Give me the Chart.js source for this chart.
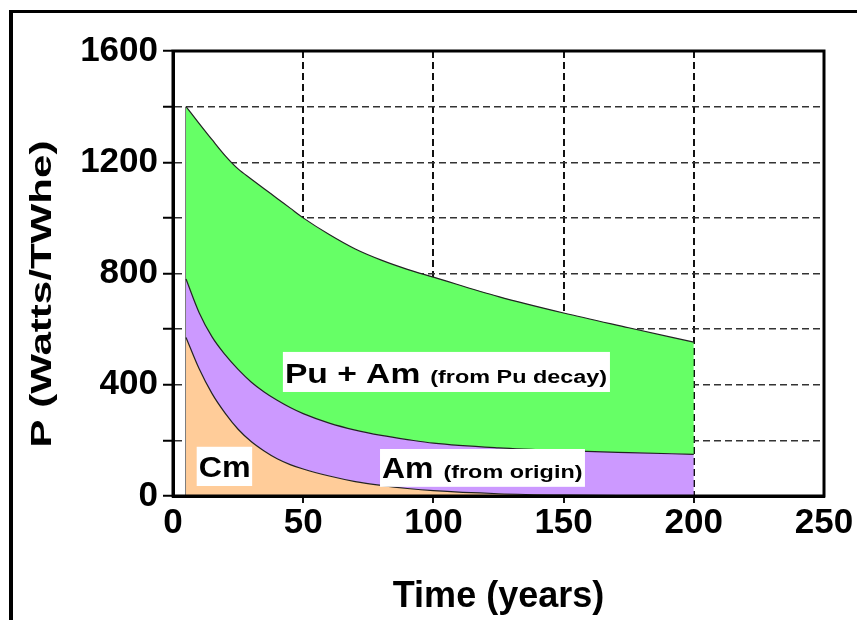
<!DOCTYPE html>
<html>
<head>
<meta charset="utf-8">
<script src="https://cdn.jsdelivr.net/npm/chart.js@4/dist/chart.umd.min.js"></script>
<style>
  html, body { margin: 0; padding: 0; background: #fff; }
  canvas { display: block; }
</style>
</head>
<body>
<canvas id="grafico" width="857" height="620"></canvas>
<script>
// --- Dados ---
const anos = [5, 10, 15, 20, 25, 30, 35, 40, 45, 50, 60, 70, 80, 90, 100, 125, 150, 175, 200];
// topo de cada faixa (valores acumulados, W/TWhe)
const topoCm = [570, 458, 368, 298, 240, 196, 162, 134, 113, 97, 72, 52, 38, 27, 19, 8, 3, 1, 0];
const topoAm = [780, 660, 572, 508, 455, 410, 374, 344, 318, 296, 262, 237, 218, 203, 190, 173, 163, 156, 150];
const topoPu = [1400, 1340, 1281, 1224, 1176, 1140, 1105, 1070, 1035, 1000, 940, 888, 848, 815, 787, 717, 658, 605, 553];

const ticksX = [0, 50, 100, 150, 200, 250];
const ticksY = [0, 400, 800, 1200, 1600];

const FONTE = '"Liberation Sans", Arial, sans-serif';
Chart.defaults.font.family = FONTE;
Chart.defaults.color = '#000';

function pontos(valores) {
    return anos.map((t, i) => ({ x: t, y: valores[i] }));
}

// --- Rótulos dentro do gráfico (caixa em coordenadas dos eixos) ---
const rotulos = [
    { caixa: [42.2, 167.8, 518, 374], partes: [
        { texto: 'Pu + Am', tam: 28, esc: 1.2 },
        { texto: '(from Pu decay)', tam: 18, esc: 1.3, gap: 10 }
    ] },
    { caixa: [9.1, 30.4, 177, 36], partes: [
        { texto: 'Cm', tam: 29, esc: 1.11 }
    ] },
    { caixa: [79.5, 158.2, 169, 33], partes: [
        { texto: 'Am', tam: 29, esc: 1.1 },
        { texto: '(from origin)', tam: 18, esc: 1.3, gap: 10 }
    ] }
];

const fundoPlugin = {
    id: 'fundo',
    beforeDraw(chart) {
        const ctx = chart.ctx;
        ctx.save();
        ctx.fillStyle = '#fff';
        ctx.fillRect(0, 0, chart.width, chart.height);
        // moldura externa (esquerda e topo)
        ctx.fillStyle = '#000';
        ctx.fillRect(9, 10, 4, chart.height - 10);
        ctx.fillRect(9, 10, chart.width - 9, 3);
        ctx.restore();
    }
};

const extrasPlugin = {
    id: 'extras',
    afterDatasetsDraw(chart) {
        const ctx = chart.ctx;
        const sx = chart.scales.x, sy = chart.scales.y;
        const area = chart.chartArea;

        // rótulos com fundo branco
        rotulos.forEach(r => {
            const x0 = sx.getPixelForValue(r.caixa[0]);
            const x1 = sx.getPixelForValue(r.caixa[1]);
            const y0 = sy.getPixelForValue(r.caixa[2]);
            const y1 = sy.getPixelForValue(r.caixa[3]);
            ctx.save();
            ctx.fillStyle = '#fff';
            ctx.fillRect(x0, y0, x1 - x0, y1 - y0);
            let x = x0 + 2;
            const base = y1 - 9;
            ctx.fillStyle = '#000';
            ctx.textBaseline = 'alphabetic';
            ctx.textAlign = 'left';
            r.partes.forEach(p => {
                x += p.gap || 0;
                ctx.font = 'bold ' + p.tam + 'px ' + FONTE;
                const w = ctx.measureText(p.texto).width * p.esc;
                ctx.save();
                ctx.translate(x, base);
                ctx.scale(p.esc, 1);
                ctx.fillText(p.texto, 0, 0);
                ctx.restore();
                x += w;
            });
            ctx.restore();
        });

        // moldura da área do gráfico
        ctx.save();
        ctx.strokeStyle = '#000';
        ctx.lineWidth = 3;
        ctx.strokeRect(area.left, area.top, area.right - area.left, area.bottom - area.top);
        ctx.restore();

        // título do eixo Y (esticado como no original)
        ctx.save();
        ctx.translate(43, 294);
        ctx.rotate(-Math.PI / 2);
        ctx.scale(1.45, 1);
        ctx.font = 'bold 29px ' + FONTE;
        ctx.fillStyle = '#000';
        ctx.textAlign = 'center';
        ctx.textBaseline = 'middle';
        ctx.fillText('P (Watts/TWhe)', 0, 0);
        ctx.restore();
    }
};

function corGradeX(c) {
    const v = c.tick ? c.tick.value : null;
    return (v === 0 || v === 250) ? 'rgba(0,0,0,0)' : '#111';
}
function corGradeY(c) {
    const v = c.tick ? c.tick.value : null;
    return (v === 0 || v === 1600) ? 'rgba(0,0,0,0)' : '#333';
}

const grafico = new Chart(document.getElementById('grafico'), {
    type: 'line',
    data: {
        datasets: [
            {
                label: 'Cm',
                data: pontos(topoCm),
                backgroundColor: '#FFCC99',
                borderColor: '#222',
                borderWidth: 1.2,
                fill: 'origin',
                pointRadius: 0,
                cubicInterpolationMode: 'monotone'
            },
            {
                label: 'Am (from origin)',
                data: pontos(topoAm),
                backgroundColor: '#CC99FF',
                borderColor: '#222',
                borderWidth: 1.2,
                fill: '-1',
                pointRadius: 0,
                cubicInterpolationMode: 'monotone'
            },
            {
                label: 'Pu + Am (from Pu decay)',
                data: pontos(topoPu),
                backgroundColor: '#66FF66',
                borderColor: '#222',
                borderWidth: 1.2,
                fill: '-1',
                pointRadius: 0,
                cubicInterpolationMode: 'monotone'
            },
            {
                // borda vertical no início das áreas
                label: 'borda',
                data: [{ x: anos[0], y: 0 }, { x: anos[0], y: topoPu[0] }],
                borderColor: '#222',
                borderWidth: 1.2,
                fill: false,
                pointRadius: 0
            }
        ]
    },
    options: {
        responsive: false,
        animation: false,
        layout: { padding: { left: 0, top: 51, right: 33, bottom: 0 } },
        plugins: {
            legend: { display: false },
            tooltip: { enabled: false }
        },
        scales: {
            x: {
                type: 'linear',
                min: 0,
                max: 250,
                afterFit(s) { s.height = 124; },
                afterBuildTicks(s) { s.ticks = ticksX.map(v => ({ value: v })); },
                ticks: {
                    autoSkip: false,
                    maxRotation: 0,
                    padding: 3,
                    color: '#000',
                    font: { size: 35, weight: 'bold', lineHeight: 1 }
                },
                grid: {
                    color: corGradeX,
                    lineWidth: 2,
                    tickLength: 7,
                    tickColor: corGradeX,
                    tickWidth: 2
                },
                border: { display: true, color: '#000', width: 3, dash: [7, 4] },
                title: {
                    display: true,
                    text: 'Time (years)',
                    color: '#000',
                    font: { size: 36, weight: 'bold' },
                    padding: { top: 0, bottom: 1 }
                }
            },
            y: {
                min: 0,
                max: 1600,
                afterFit(s) { s.width = 173; },
                ticks: {
                    stepSize: 200,
                    autoSkip: false,
                    padding: 5,
                    color: '#000',
                    font: { size: 35, weight: 'bold' },
                    callback: v => ticksY.includes(v) ? String(v) : ''
                },
                grid: {
                    color: corGradeY,
                    lineWidth: 1.5,
                    tickLength: 10,
                    tickColor: '#000',
                    tickWidth: 2
                },
                border: { display: true, color: '#000', width: 3, dash: [7, 4] }
            }
        }
    },
    plugins: [fundoPlugin, extrasPlugin]
});
</script>
</body>
</html>
